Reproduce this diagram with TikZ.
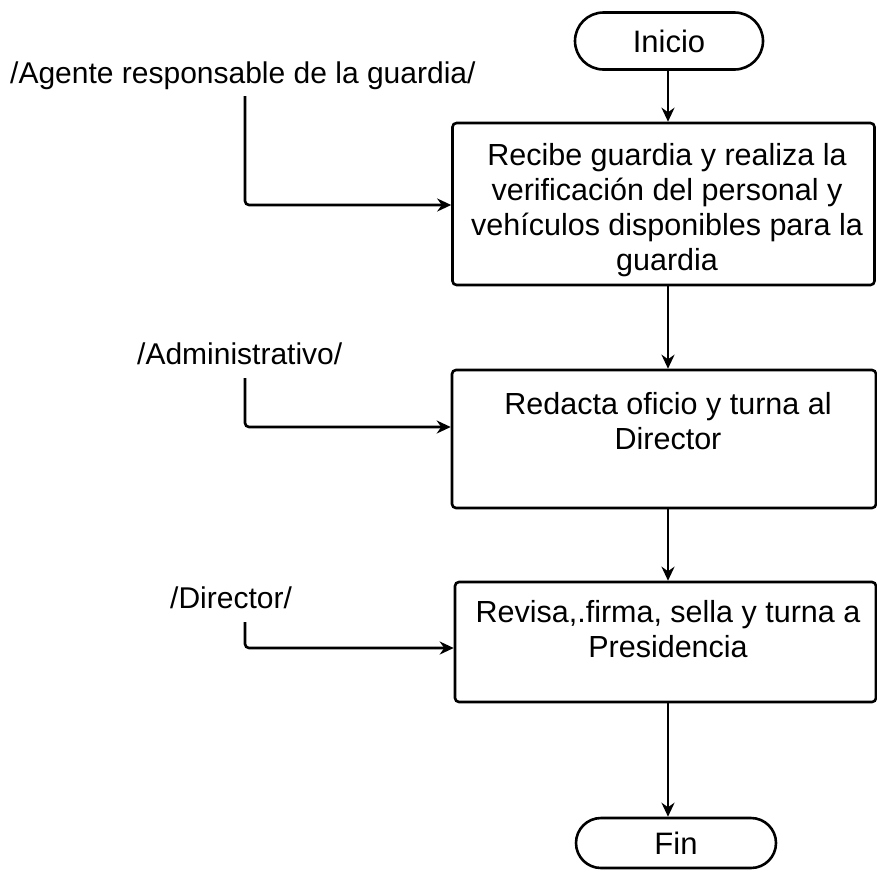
\documentclass[tikz,border=0pt]{standalone}
\usepackage{fontspec}
\setmainfont{Liberation Sans}
\usetikzlibrary{arrows.meta,shapes.misc}
\begin{document}
\begin{tikzpicture}[x=1pt,y=-1pt,
  every node/.style={inner sep=0pt},
  bt/.style={font=\fontsize{30.5}{35}\selectfont, align=center},
  lt/.style={font=\fontsize{30}{35}\selectfont, anchor=west},
  stepbox/.style={draw, line width=2.6pt, rounded corners=4pt},
  term/.style={draw, line width=2.6pt, rounded rectangle, font=\fontsize{31}{35}\selectfont},
  conn/.style={line width=2.6pt, -{Stealth[length=14pt,width=13pt]}, rounded corners=4pt}]
\useasboundingbox (0,0) rectangle (877,873);
% terminals
\node[term, minimum width=188pt, minimum height=57pt] (ini) at (669,41) {Inicio};
\node[term, minimum width=200pt, minimum height=50pt] (fin) at (676,843) {Fin};
% boxes
\node[stepbox, minimum width=422pt, minimum height=162pt] (b1) at (663.5,204) {};
\node[bt] (t1) at (667,210) {Recibe guardia y realiza la\\verificación del personal y\\vehículos disponibles para la\\guardia};
\node[stepbox, minimum width=424pt, minimum height=138pt] (b2) at (664,439) {};
\node[bt] (t2) at (668,421) {Redacta oficio y turna al\\Director};
\node[stepbox, minimum width=421pt, minimum height=120pt] (b3) at (665.5,642) {};
\node[bt] (t3) at (668,629) {Revisa,.firma, sella y turna a\\Presidencia};
% labels
\node[lt] (l1) at (10,76) {/Agente responsable de la guardia/};
\node[lt] (l2) at (137,354) {/Administrativo/};
\node[lt] (l3) at (170,598) {/Director/};
\coordinate (s1) at (245,96);
\coordinate (s2) at (245,378);
\coordinate (s3) at (245,622);
% connectors
\draw[conn] (ini.south -| 668,0) -- (b1.north -| 668,0);
\draw[conn] (b1.south -| 668,0) -- (b2.north -| 668,0);
\draw[conn] (b2.south -| 668,0) -- (b3.north -| 668,0);
\draw[conn] (b3.south -| 668,0) -- (fin.north -| 668,0);
\draw[conn] (s1) |- (b1.west |- 0,205);
\draw[conn] (s2) |- (b2.west |- 0,427);
\draw[conn] (s3) |- (b3.west |- 0,648);
\end{tikzpicture}
\end{document}
